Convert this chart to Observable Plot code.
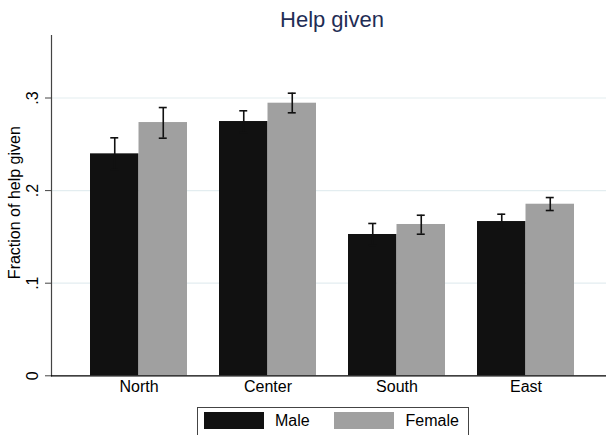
<!DOCTYPE html>
<html>
<head>
<meta charset="utf-8">
<script src="https://cdn.jsdelivr.net/npm/d3@7"></script>
<script src="https://cdn.jsdelivr.net/npm/@observablehq/plot@0.6"></script>
<style>
  body { margin: 0; background: #fff; font-family: "Liberation Sans", Arial, sans-serif; }
  #wrap { position: relative; width: 606px; height: 435px; overflow: hidden; background: #fff; }
  #title { position: absolute; left: 182px; width: 300px; top: 9px; text-align: center;
           font-size: 22px; line-height: 22px; color: #1f2d55; }
  #chart { position: absolute; left: 0; top: 30px; }
  #legend { position: absolute; left: 197px; top: 407px; width: 272px; height: 40px;
            border: 1px solid #444; box-sizing: border-box; background: #fff; }
  .sw { position: absolute; top: 4px; height: 17px; }
  .lt { position: absolute; top: 4px; line-height: 17px; font-size: 16px; color: #000; white-space: nowrap; }
</style>
</head>
<body>
<div id="wrap">
  <div id="title"></div>
  <div id="chart"></div>
  <div id="legend"></div>
</div>
<script>
// ---- data ----
const titleText = "Help given";
const yTitle = "Fraction of help given";
const regions = ["North", "Center", "South", "East"];
const sexes = ["Male", "Female"];
const sexColors = ["#111111", "#a0a0a0"];

const maleMean   = [0.2397, 0.2746, 0.1526, 0.1666];
const maleLo     = [0.2225, 0.2627, 0.1410, 0.1587];
const maleHi     = [0.2570, 0.2862, 0.1645, 0.1745];
const femaleMean = [0.2735, 0.2944, 0.1634, 0.1853];
const femaleLo   = [0.2566, 0.2840, 0.1529, 0.1785];
const femaleHi   = [0.2897, 0.3052, 0.1734, 0.1925];

const yTicks = [0, 0.1, 0.2, 0.3];
const yTickLabels = ["0", ".1", ".2", ".3"];

// ---- tables ----
const male = regions.map((r, i) => ({region: r, sex: sexes[0], mean: maleMean[i], lo: maleLo[i], hi: maleHi[i]}));
const female = regions.map((r, i) => ({region: r, sex: sexes[1], mean: femaleMean[i], lo: femaleLo[i], hi: femaleHi[i]}));

const xOpts = {type: "band", domain: regions, range: [51, 614], paddingInner: 0.248, paddingOuter: 0.306};
const bw = Plot.scale({x: xOpts}).bandwidth;   // width of one region group
const half = bw / 2, quarter = bw / 4, cap = 4;
const errStroke = "#111", errW = 1.6;

const chart = Plot.plot({
  width: 606,
  height: 375,
  marginTop: 5,
  marginBottom: 29.7,
  marginLeft: 51,
  marginRight: 0,
  style: {fontFamily: "'Liberation Sans', Arial, sans-serif", fontSize: "16px", background: "transparent"},
  x: {...xOpts, label: null},
  y: {domain: [0, 0.3675], label: null},
  marks: [
    Plot.ruleY(yTicks.slice(1), {stroke: "#e3edf0", strokeWidth: 1.2}),
    Plot.barY(male, {x: "region", y: "mean", fill: sexColors[0], insetRight: half}),
    Plot.barY(female, {x: "region", y: "mean", fill: sexColors[1], insetLeft: half}),
    Plot.ruleX(male, {x: "region", y1: "lo", y2: "hi", dx: -quarter, stroke: errStroke, strokeWidth: errW}),
    Plot.ruleX(female, {x: "region", y1: "lo", y2: "hi", dx: quarter, stroke: errStroke, strokeWidth: errW}),
    Plot.tickY(male, {x: "region", y: "hi", insetLeft: quarter - cap, insetRight: 3 * quarter - cap, stroke: errStroke, strokeWidth: errW}),
    Plot.tickY(male, {x: "region", y: "lo", insetLeft: quarter - cap, insetRight: 3 * quarter - cap, stroke: errStroke, strokeWidth: errW}),
    Plot.tickY(female, {x: "region", y: "hi", insetLeft: 3 * quarter - cap, insetRight: quarter - cap, stroke: errStroke, strokeWidth: errW}),
    Plot.tickY(female, {x: "region", y: "lo", insetLeft: 3 * quarter - cap, insetRight: quarter - cap, stroke: errStroke, strokeWidth: errW}),
    Plot.frame({anchor: "left", stroke: "#444", strokeWidth: 1.2}),
    Plot.ruleY([0], {stroke: "#000", strokeWidth: 1.2}),
    Plot.axisY({ticks: yTicks, tickSize: 6, tickFormat: () => "", stroke: "#444", label: null}),
    Plot.text(yTicks, {y: d => d, text: (d, i) => yTickLabels[i], frameAnchor: "left", rotate: -90,
                       dx: -14, lineAnchor: "bottom", textAnchor: "middle", fontSize: 16, fill: "#000"}),
    Plot.text([yTitle], {text: d => d, frameAnchor: "left", rotate: -90, dx: -31.5, dy: -3,
                         lineAnchor: "bottom", textAnchor: "middle", fontSize: 16, fill: "#000"}),
    Plot.axisX({tickSize: 0, tickPadding: 5, fontSize: 16, fill: "#000", label: null})
  ]
});
document.getElementById("chart").appendChild(chart);
document.getElementById("title").textContent = titleText;

// ---- legend ----
const legend = document.getElementById("legend");
const legendPos = [{sw: 6, tx: 77}, {sw: 136, tx: 207.5}];
sexes.forEach((s, i) => {
  const sw = document.createElement("div");
  sw.className = "sw";
  sw.style.left = legendPos[i].sw + "px";
  sw.style.width = "60px";
  sw.style.background = sexColors[i];
  legend.appendChild(sw);
  const t = document.createElement("div");
  t.className = "lt";
  t.style.left = legendPos[i].tx + "px";
  t.textContent = s;
  legend.appendChild(t);
});
</script>
</body>
</html>
